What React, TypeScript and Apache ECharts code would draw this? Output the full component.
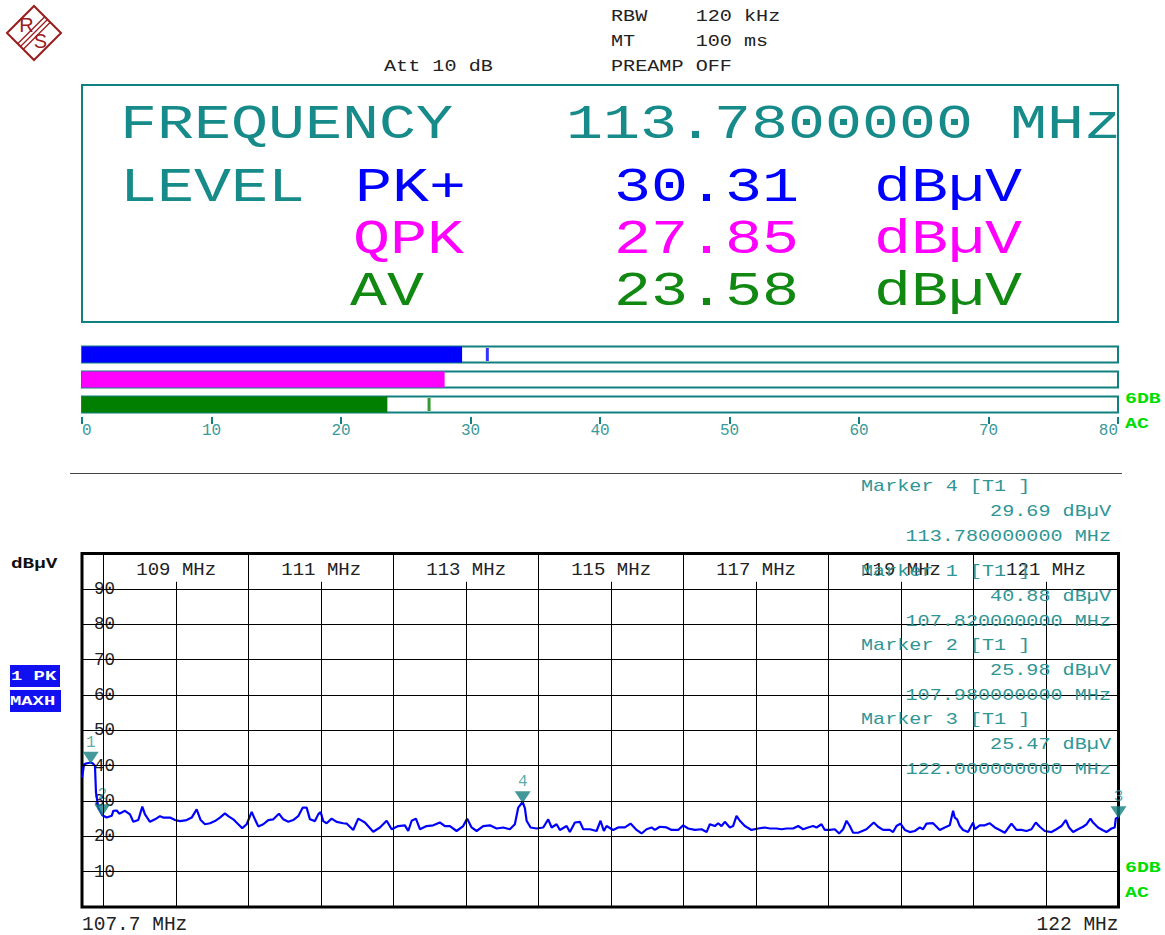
import React, { useEffect, useRef } from "react";
import * as echarts from "echarts";

// ---------- data ----------
const traceFreqMHz = [
  107.7, 107.728, 107.755, 107.82, 107.856, 107.879, 107.893, 107.925, 107.98, 108.041,
  108.11, 108.132, 108.179, 108.214, 108.293, 108.362, 108.408, 108.477, 108.532, 108.569,
  108.638, 108.707, 108.776, 108.821, 108.914, 108.983, 109.052, 109.144, 109.213, 109.282,
  109.337, 109.397, 109.466, 109.534, 109.603, 109.672, 109.718, 109.787, 109.856, 109.911,
  109.972, 110.041, 110.086, 110.132, 110.201, 110.27, 110.339, 110.417, 110.477, 110.546,
  110.614, 110.683, 110.744, 110.799, 110.845, 110.914, 110.959, 110.992, 111.028, 111.075,
  111.144, 111.213, 111.304, 111.351, 111.442, 111.511, 111.603, 111.718, 111.81, 111.903,
  111.972, 112.063, 112.155, 112.201, 112.248, 112.307, 112.362, 112.454, 112.546, 112.638,
  112.707, 112.776, 112.868, 112.959, 113.014, 113.075, 113.144, 113.235, 113.328, 113.42,
  113.511, 113.603, 113.672, 113.718, 113.78, 113.81, 113.834, 113.889, 113.972, 114.063,
  114.132, 114.179, 114.248, 114.293, 114.386, 114.431, 114.5, 114.569, 114.615, 114.707,
  114.799, 114.854, 114.9, 114.937, 115.028, 115.097, 115.19, 115.268, 115.351, 115.42,
  115.489, 115.558, 115.603, 115.672, 115.765, 115.834, 115.925, 115.994, 116.063, 116.155,
  116.248, 116.317, 116.362, 116.431, 116.477, 116.523, 116.569, 116.638, 116.683, 116.73,
  116.776, 116.845, 116.937, 117.028, 117.121, 117.19, 117.282, 117.351, 117.42, 117.511,
  117.58, 117.649, 117.718, 117.787, 117.834, 117.903, 117.948, 118.017, 118.086, 118.146,
  118.201, 118.248, 118.293, 118.339, 118.408, 118.523, 118.624, 118.683, 118.752, 118.845,
  118.89, 118.937, 118.992, 119.052, 119.121, 119.19, 119.259, 119.304, 119.351, 119.442,
  119.534, 119.603, 119.672, 119.718, 119.741, 119.773, 119.81, 119.856, 119.925, 119.994,
  120.017, 120.086, 120.155, 120.224, 120.293, 120.362, 120.431, 120.523, 120.592, 120.661,
  120.73, 120.799, 120.859, 120.914, 120.983, 121.075, 121.144, 121.213, 121.272, 121.318,
  121.374, 121.442, 121.511, 121.558, 121.613, 121.649, 121.718, 121.779, 121.834, 121.903,
  121.948, 121.962, 122.0,
];
const traceLevelDbuV = [
  36.6, 40.3, 40.6, 40.88, 40.5, 39.9, 32.4, 28.1, 25.98, 25.3,
  25.8, 27.2, 27.3, 26.4, 27.2, 26.2, 24.1, 24.6, 28.4, 26.2,
  24.1, 24.8, 25.7, 25.3, 25.3, 24.6, 24.3, 24.6, 25.3, 27.6,
  24.6, 23.4, 23.7, 24.3, 25.3, 26.5, 25.7, 24.8, 23.4, 22.3,
  23.4, 26.9, 24.8, 22.8, 23.4, 24.6, 24.8, 26.4, 24.8, 24.1,
  24.6, 25.7, 28.1, 28.1, 24.8, 24.3, 26.2, 26.9, 24.3, 23.7,
  25.0, 24.1, 23.7, 23.6, 21.8, 25.0, 23.9, 21.3, 22.5, 24.4,
  22.0, 22.9, 23.1, 21.5, 24.4, 25.0, 22.0, 22.9, 23.1, 23.9,
  22.9, 22.9, 21.5, 22.9, 25.0, 22.5, 21.5, 22.9, 23.1, 22.2,
  22.5, 22.0, 23.4, 28.1, 29.69, 28.0, 24.4, 22.5, 22.2, 22.5,
  24.8, 22.5, 23.4, 21.8, 22.9, 21.2, 23.9, 24.1, 22.0, 22.0,
  21.5, 24.4, 21.5, 22.9, 21.8, 22.5, 22.5, 23.6, 21.8, 20.8,
  22.0, 22.5, 21.8, 22.7, 22.5, 21.8, 21.8, 23.1, 22.2, 21.8,
  22.0, 21.2, 23.4, 22.9, 23.7, 22.9, 24.1, 22.5, 22.9, 25.8,
  24.4, 22.9, 21.8, 22.2, 22.5, 22.2, 22.2, 22.0, 22.2, 22.2,
  22.9, 22.0, 22.5, 22.9, 22.5, 23.4, 21.8, 21.8, 22.0, 20.8,
  22.0, 24.4, 22.9, 21.0, 21.0, 22.0, 23.9, 22.7, 21.8, 21.8,
  21.2, 22.9, 23.6, 21.8, 21.2, 21.5, 22.5, 22.0, 23.6, 23.7,
  21.8, 22.5, 23.1, 27.2, 25.3, 24.8, 22.9, 21.8, 21.2, 23.9,
  22.0, 23.1, 23.1, 23.7, 22.5, 21.8, 21.0, 23.6, 21.8, 21.8,
  21.5, 22.0, 23.9, 22.7, 21.5, 21.2, 22.0, 22.9, 24.6, 22.5,
  21.2, 22.0, 22.7, 23.4, 25.0, 23.9, 22.5, 21.8, 21.2, 22.2,
  22.5, 25.0, 25.47,
];

const markerIds = [1, 2, 3, 4];
const markerFreqMHz = [107.82, 107.98, 122.0, 113.78];
const markerLevelDbuV = [40.88, 25.98, 25.47, 29.69];
const readoutOrder = [4, 1, 2, 3];

const freqMin = 107.7;
const freqMax = 122;
const levelTicks = [10, 20, 30, 40, 50, 60, 70, 80, 90];
const fullGridFreqs = [108, 110, 112, 114, 116, 118, 120];
const labelledFreqs = [109, 111, 113, 115, 117, 119, 121];

const detectorNames = ["PK+", "QPK", "AV"];
const detectorLevels = [30.31, 27.85, 23.58];
const meterFill = [29.35, 28.0, 23.58];
const meterHold = [31.3, null, 26.8];

const settingLines = ["RBW    120 kHz", "MT     100 ms", "PREAMP OFF"];
const attText = "Att 10 dB";

// ---------- styles ----------
const MONO = '"Liberation Mono", "DejaVu Sans Mono", monospace';
const TEAL = "#178a8a";
const TEAL_LINE = "#118080";
const TEAL_TXT = "#2f9696";
const BLUE = "#0000ff";
const MAGENTA = "#ff00ff";
const GREEN = "#118811";
const GREEN_BAR = "#007f00";
const LIME = "#00dd00";
const RS_RED = "#9b1c1c";
const detColors = [BLUE, MAGENTA, GREEN];
const barColors = [BLUE, MAGENTA, GREEN_BAR];
const holdColors = [BLUE, MAGENTA, GREEN_BAR];
const readoutTop = [487, 572, 646, 720];

function txt(text: string, x: number, y: number, size: number, color: string, opts: any = {}) {
  return {
    type: "text",
    x,
    y,
    scaleX: opts.sx ?? 1.26,
    z: 20,
    silent: true,
    style: {
      text,
      fill: color,
      font: `${opts.bold ? "bold " : ""}${size}px ${MONO}`,
      textAlign: opts.align ?? "left",
      textVerticalAlign: "middle",
    },
  };
}

function buildOption() {
  const trace = traceFreqMHz.map((f, i) => [f, traceLevelDbuV[i]]);
  const markerData = markerIds.map((id, i) => ({ value: [markerFreqMHz[i], markerLevelDbuV[i]], name: String(id) }));

  const gridLines: any[] = [];
  levelTicks.forEach((v) => gridLines.push({ yAxis: v }));
  fullGridFreqs.forEach((f) => gridLines.push({ xAxis: f }));
  labelledFreqs.forEach((f) => gridLines.push([{ coord: [f, 0] }, { coord: [f, 92] }]));

  const graphics: any[] = [];
  // logo
  graphics.push({
    type: "polygon",
    shape: { points: [[7, 33], [34, 6], [61, 33], [34, 60]] },
    style: { fill: "#fff", stroke: RS_RED, lineWidth: 2 },
    z: 20,
    silent: true,
  });
  [-2.8, 0, 2.8].forEach((o) => {
    graphics.push({
      type: "line",
      shape: { x1: 20.5 + o, y1: 46.5 + o, x2: 47.5 + o, y2: 19.5 + o },
      style: { stroke: RS_RED, lineWidth: 1.3 },
      z: 20,
      silent: true,
    });
  });
  graphics.push({ type: "text", x: 26.5, y: 25, z: 21, silent: true, style: { text: "R", fill: RS_RED, font: '20px "Liberation Sans", sans-serif', textAlign: "center", textVerticalAlign: "middle" } });
  graphics.push({ type: "text", x: 40.5, y: 41, z: 21, silent: true, style: { text: "S", fill: RS_RED, font: '20px "Liberation Sans", sans-serif', textAlign: "center", textVerticalAlign: "middle" } });

  // header settings
  settingLines.forEach((s, i) => graphics.push(txt(s, 611, 17 + i * 25, 16, "#222")));
  graphics.push(txt(attText, 384, 67, 16, "#222"));

  // measurement box
  graphics.push({
    type: "rect",
    shape: { x: 82, y: 85, width: 1036, height: 237 },
    style: { fill: "none", stroke: TEAL_LINE, lineWidth: 2 },
    z: 5,
    silent: true,
  });
  const BIG = { sx: 1.285 };
  graphics.push(txt("FREQUENCY", 120, 125, 48, TEAL, BIG));
  graphics.push(txt(`${markerFreqMHz[3].toFixed(7)} MHz`, 566, 125, 48, TEAL, BIG));
  graphics.push(txt("LEVEL", 120, 188, 48, TEAL, BIG));
  const detX = [355, 353, 350];
  detectorNames.forEach((n, i) => {
    const y = 188 + i * 52;
    graphics.push(txt(n, detX[i], y, 48, detColors[i], BIG));
    graphics.push(txt(detectorLevels[i].toFixed(2), 614, y, 48, detColors[i], BIG));
    graphics.push(txt("dBµV", 874, y, 48, detColors[i], BIG));
  });

  // meter side labels
  graphics.push(txt("6DB", 1125, 399, 14, LIME, { bold: true, sx: 1.42 }));
  graphics.push(txt("AC", 1125, 424, 14, LIME, { bold: true, sx: 1.42 }));
  graphics.push(txt("6DB", 1125, 868, 14, LIME, { bold: true, sx: 1.42 }));
  graphics.push(txt("AC", 1125, 893, 14, LIME, { bold: true, sx: 1.42 }));

  // separator
  graphics.push({ type: "line", shape: { x1: 70, y1: 473.5, x2: 1122, y2: 473.5 }, style: { stroke: "#444", lineWidth: 1 }, z: 5, silent: true });

  // unit + trace info
  graphics.push(txt("dBµV", 11, 564, 14, "#111", { bold: true, sx: 1.38 }));
  graphics.push({ type: "rect", shape: { x: 10, y: 665, width: 50, height: 22 }, style: { fill: "#1010f0" }, z: 19, silent: true });
  graphics.push({ type: "rect", shape: { x: 10, y: 690, width: 51, height: 22 }, style: { fill: "#1010f0" }, z: 19, silent: true });
  graphics.push(txt("1 PK", 11, 676.5, 13, "#fff", { bold: true, sx: 1.45 }));
  graphics.push(txt("MAXH", 10, 701.5, 13, "#fff", { bold: true, sx: 1.45 }));

  // marker readouts
  readoutOrder.forEach((id, k) => {
    const i = markerIds.indexOf(id);
    const y0 = readoutTop[k];
    graphics.push(txt(`Marker ${id} [T1 ]`, 861, y0, 16, TEAL_TXT));
    graphics.push(txt(`${markerLevelDbuV[i].toFixed(2)} dBµV`, 1111, y0 + 25, 16, TEAL_TXT, { align: "right" }));
    graphics.push(txt(`${markerFreqMHz[i].toFixed(9)} MHz`, 1111, y0 + 49.5, 16, TEAL_TXT, { align: "right" }));
  });

  return {
    animation: false,
    backgroundColor: "#fff",
    textStyle: { fontFamily: MONO },
    grid: [
      { left: 82, top: 553.5, width: 1036.5, height: 354.5, show: true, borderColor: "#000", borderWidth: 3, backgroundColor: "transparent" },
      { left: 82, top: 342, width: 1036, height: 75 },
    ],
    xAxis: [
      {
        type: "value", gridIndex: 0, min: freqMin, max: freqMax, position: "bottom",
        axisLine: { show: false }, axisTick: { show: false }, splitLine: { show: false },
        axisLabel: {
          customValues: [freqMin, freqMax], formatter: (v: number) => `${v} MHz`,
          fontFamily: MONO, fontSize: 19.5, color: "#222", margin: 8,
          alignMinLabel: "left", alignMaxLabel: "right",
        },
      },
      {
        type: "value", gridIndex: 0, min: freqMin, max: freqMax, position: "top",
        axisLine: { show: false }, axisTick: { show: false }, splitLine: { show: false },
        axisLabel: {
          inside: true, customValues: labelledFreqs, formatter: (v: number) => `${v} MHz`,
          fontFamily: MONO, fontSize: 19, color: "#222", margin: 7,
        },
      },
      {
        type: "value", gridIndex: 1, min: 0, max: 80, interval: 10,
        axisLine: { show: false }, splitLine: { show: false },
        axisTick: { show: true, length: 7, lineStyle: { color: TEAL_LINE, width: 2 } },
        axisLabel: { fontFamily: MONO, fontSize: 16, color: "#3a9a9a", margin: 6, alignMinLabel: "left", alignMaxLabel: "right" },
      },
    ],
    yAxis: [
      {
        type: "value", gridIndex: 0, min: 0, max: 100, interval: 10, z: 2,
        axisLine: { show: false }, axisTick: { show: false }, splitLine: { show: false },
        axisLabel: {
          inside: true, margin: 7, showMinLabel: false, showMaxLabel: false,
          fontFamily: MONO, fontSize: 17.5, color: "#222",
          backgroundColor: "#fff", padding: [4, 3, 0, 5],
        },
      },
      {
        type: "category", gridIndex: 1, data: detectorNames, inverse: true,
        axisLine: { show: false }, axisTick: { show: false }, axisLabel: { show: false }, splitLine: { show: false },
      },
    ],
    series: [
      {
        type: "line", xAxisIndex: 0, yAxisIndex: 0, data: [], z: 1, silent: true,
        markLine: {
          silent: true, symbol: "none", label: { show: false },
          lineStyle: { color: "#000", width: 1, type: "solid" },
          data: gridLines,
        },
      },
      {
        type: "line", xAxisIndex: 0, yAxisIndex: 0, data: trace, z: 3, showSymbol: false,
        lineStyle: { color: BLUE, width: 2.2 }, itemStyle: { color: BLUE },
      },
      {
        type: "scatter", xAxisIndex: 0, yAxisIndex: 0, data: markerData, z: 4, clip: false,
        symbol: "triangle", symbolRotate: 180, symbolSize: [16, 12], symbolOffset: [0, "-40%"],
        itemStyle: { color: "#148080" },
        label: { show: true, position: "top", distance: 1, formatter: (p: any) => p.name, color: TEAL_TXT, fontFamily: MONO, fontSize: 16 },
      },
      {
        type: "bar", xAxisIndex: 2, yAxisIndex: 1, barWidth: 16, z: 2,
        data: meterFill.map((v, i) => ({ value: v, itemStyle: { color: barColors[i] } })),
        showBackground: true,
        backgroundStyle: { color: "#fff", borderColor: TEAL_LINE, borderWidth: 2 },
      },
      {
        type: "scatter", xAxisIndex: 2, yAxisIndex: 1, z: 3, symbol: "rect", symbolSize: [3, 13],
        data: meterHold
          .map((v, i) => (v == null ? null : { value: [v, detectorNames[i]], itemStyle: { color: holdColors[i] } }))
          .filter((d) => d !== null),
      },
    ],
    graphic: graphics,
  };
}

export default function App() {
  const ref = useRef<HTMLDivElement>(null);
  useEffect(() => {
    if (!ref.current) return;
    const chart = echarts.init(ref.current, undefined, { renderer: "svg" });
    chart.setOption(buildOption() as any);
    return () => chart.dispose();
  }, []);
  return <div ref={ref} style={{ position: "absolute", left: 0, top: 0, width: 1165, height: 935 }} />;
}
